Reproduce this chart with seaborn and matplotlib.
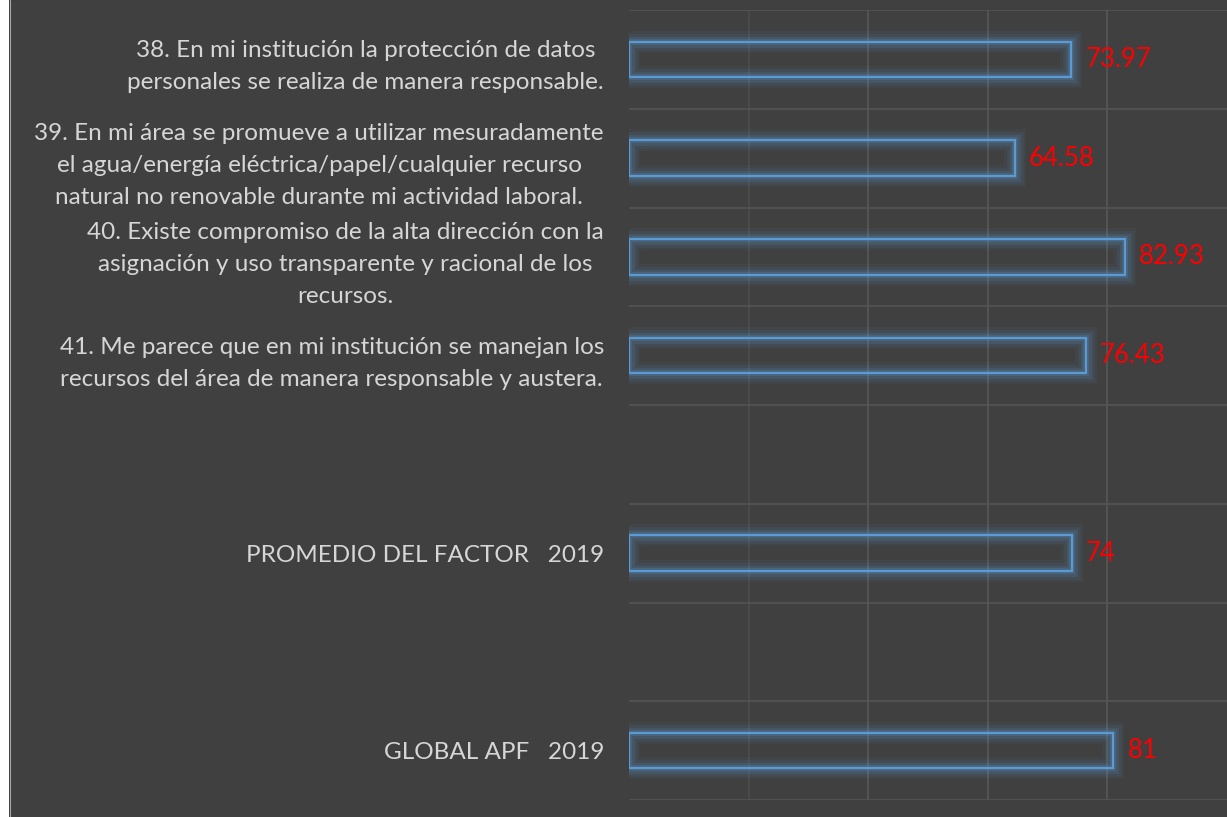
import pandas as pd
import matplotlib.pyplot as plt
import matplotlib.patheffects as pe
from matplotlib.patches import Rectangle
from matplotlib.lines import Line2D
import seaborn as sns

# datos del gráfico
preguntas = [
    "38. En mi institución la protección de datos\npersonales se realiza de manera responsable.",
    "39. En mi área se promueve a utilizar mesuradamente\nel agua/energía eléctrica/papel/cualquier recurso\nnatural no renovable durante mi actividad laboral.",
    "40. Existe compromiso de la alta dirección con la\nasignación y uso transparente y racional de los\nrecursos.",
    "41. Me parece que en mi institución se manejan los\nrecursos del área de manera responsable y austera.",
    "PROMEDIO DEL FACTOR   2019",
    "GLOBAL APF   2019",
]
valores = [73.97, 64.58, 82.93, 76.43, 74, 81]
# orden en el eje, con huecos vacíos
orden = preguntas[:4] + [""] + [preguntas[4]] + [" "] + [preguntas[5]]

BG = "#404040"
AZUL = "#5B9BD5"
GRIS_TXT = "#D6D6D6"

df = pd.DataFrame({"pregunta": preguntas, "valor": valores})

sns.set_theme(style="dark")
plt.rcParams["font.family"] = ["Lato", "DejaVu Sans"]

fig = plt.figure(figsize=(12.27, 8.17), dpi=100, facecolor=BG)
ax = fig.add_axes([629 / 1227, 1 - 800 / 817, 1 - 629 / 1227, 790 / 817])
ax.set_facecolor(BG)

sns.barplot(data=df, y="pregunta", x="valor", order=orden, orient="h",
            color=AZUL, fill=False, linewidth=1.6, width=0.36, ax=ax)

# efecto de resplandor en las barras
for p in ax.patches:
    p.set_edgecolor(AZUL)
    p.set_path_effects([
        pe.Stroke(linewidth=16, foreground=AZUL, alpha=0.06),
        pe.Stroke(linewidth=12, foreground=AZUL, alpha=0.09),
        pe.Stroke(linewidth=8, foreground=AZUL, alpha=0.13),
        pe.Stroke(linewidth=4.5, foreground=AZUL, alpha=0.2),
        pe.Normal(),
    ])

ax.set_xlim(0, 100)
ax.set_ylim(len(orden) - 0.5, -0.5)
ax.set_xticks([20, 40, 60, 80])
ax.set_yticks([i + 0.5 for i in range(-1, len(orden))], minor=True)
ax.grid(axis="x", which="major", color="#5A5A5A", linewidth=1.1)
ax.grid(axis="y", which="minor", color="#555555", linewidth=1.1)
ax.grid(axis="y", which="major", visible=False)
ax.get_xgridlines()[0].set_color("#4E4E4E")
ax.tick_params(axis="x", labelbottom=False, length=0)
ax.tick_params(axis="y", which="both", length=0, pad=18, labelsize=17.5,
               labelcolor=GRIS_TXT)
for t in ax.get_yticklabels():
    t.set_multialignment("center")
    t.set_linespacing(1.65)
ax.set_xlabel("")
ax.set_ylabel("")
for s in ax.spines.values():
    s.set_visible(False)

# etiquetas de valor
for c in ax.containers:
    ax.bar_label(c, fmt="{:g}", padding=10, color="#FF0000", fontsize=18.5)

# franja blanca a la izquierda
fig.patches.append(Rectangle((0, 0), 9 / 1227, 1, transform=fig.transFigure,
                             facecolor="white", edgecolor="none"))
fig.lines.append(Line2D([9.5 / 1227, 9.5 / 1227], [0, 1], transform=fig.transFigure,
                        color="#A6A6A6", linewidth=0.8))

fig.savefig("out.png", dpi=100, facecolor=BG)
